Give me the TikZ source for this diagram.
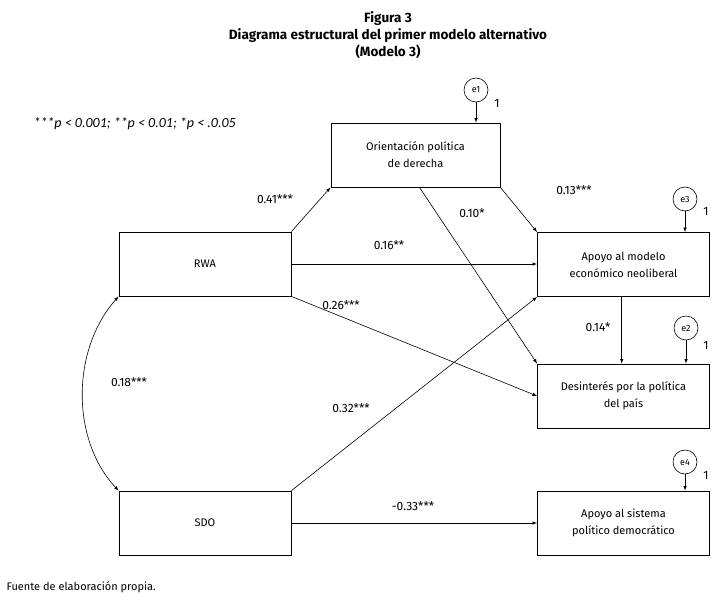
\documentclass[tikz,border=0pt]{standalone}
\usepackage{fontspec}
\setmainfont{Fira Sans}
\newfontfamily\calfont{Carlito}
\usepackage{tikz}
\usetikzlibrary{positioning}

\begin{document}
\begin{tikzpicture}[x=1pt, y=-1pt, >=latex, font=\fontsize{11}{17}\selectfont]
\tikzset{varbox/.style={draw, line width=0.8pt, minimum width=172pt, minimum height=64pt, align=center},
errc/.style={draw, circle, line width=0.6pt, minimum size=24pt, inner sep=0pt, font=\fontsize{9}{9}\selectfont},
path/.style={->, line width=0.6pt},
coef/.style={inner sep=1pt, font=\fontsize{12}{14}\selectfont}}
\useasboundingbox (0,0) rectangle (723,605);
\node[font=\bfseries\fontsize{13.5}{17}\selectfont, align=center] (title) at (388,35) {Figura 3\\Diagrama estructural del primer modelo alternativo\\(Modelo 3)};
\node[font=\calfont\itshape\fontsize{14}{15}\selectfont, anchor=west] (legend) at (30,124) {***p < 0.001; **p < 0.01; *p < .0.05};
\node[anchor=west] (source) at (3,587) {Fuente de elaboración propia.};
\node[varbox, minimum width=169pt] (orient) at (415.5,155) {Orientación política\\de derecha};
\node[varbox] (rwa) at (205,264) {RWA};
\node[varbox] (sdo) at (205,523) {SDO};
\node[varbox] (modelo) at (623.5,264.5) {Apoyo al modelo\\económico neoliberal};
\node[varbox] (desint) at (623.5,396) {Desinterés por la política\\del país};
\node[varbox] (sistema) at (623.5,523) {Apoyo al sistema\\político democrático};
\node[errc] (e1) at (476,90) {e1};
\node[errc] (e3) at (685,199) {e3};
\node[errc] (e2) at (686,328) {e2};
\node[errc] (e4) at (685,462) {e4};
\draw[path] (e1) -- (e1 |- orient.north);
\draw[path] (e3) -- (e3 |- modelo.north);
\draw[path] (e2) -- (e2 |- desint.north);
\draw[path] (e4) -- (e4 |- sistema.north);
\node[coef] (one1) at (497,103) {1};
\node[coef] (one3) at (706,211) {1};
\node[coef] (one2) at (706,345) {1};
\node[coef] (one4) at (706,475) {1};
\draw[path] (rwa.north east) -- (orient.south west);
\draw[path] (orient.south east) -- (modelo.north west);
\draw[path] ([xshift=4pt]orient.south) -- (desint.north west);
\draw[path] (rwa.east) -- (rwa.east -| modelo.west);
\draw[path] (rwa.south east) -- (desint.west);
\draw[path] (sdo.north east) -- (modelo.south west);
\draw[path] (sdo.east) -- (sistema.west);
\draw[path] (modelo.south -| 621.7,0) -- (desint.north -| 621.7,0);
\draw[<->, line width=0.6pt] (rwa.south west) .. controls (71,350) and (71,440) .. (sdo.north west);
\node[coef] (c41) at (275,199) {0.41***};
\node[coef] (c13) at (574,190) {0.13***};
\node[coef] (c10) at (472,213) {0.10*};
\node[coef] (c16) at (389,245) {0.16**};
\node[coef] (c26) at (341,305) {0.26***};
\node[coef] (c14) at (598,327) {0.14*};
\node[coef] (c18) at (129,382) {0.18***};
\node[coef] (c32) at (351,408) {0.32***};
\node[coef] (c33) at (413,506) {-0.33***};
\end{tikzpicture}
\end{document}
